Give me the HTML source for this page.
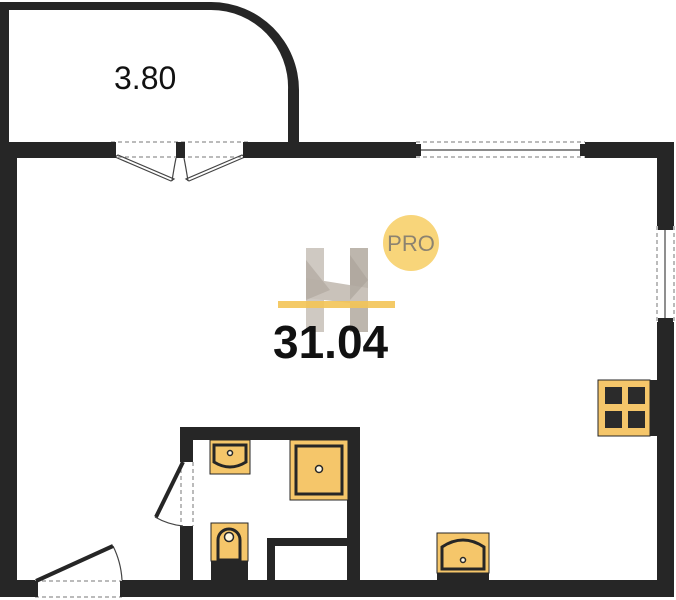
<!DOCTYPE html>
<html><head><meta charset="utf-8"><style>
html,body{margin:0;padding:0;background:#fff;width:676px;height:600px;overflow:hidden}
</style></head><body>
<svg width="676" height="600" viewBox="0 0 676 600" xmlns="http://www.w3.org/2000/svg">
<g fill="#262626">
<rect x="0" y="2" width="211" height="8"/>
<rect x="0" y="2" width="9" height="142"/>
<path d="M211,2 A88,88 0 0 1 299,90 L299,142 L288,142 L288,90 A77,77 0 0 0 211,10 Z"/>
<rect x="0" y="142" width="111" height="16"/>
<rect x="248" y="142" width="168" height="16"/>
<rect x="585" y="142" width="89" height="16"/>
<rect x="0" y="142" width="17" height="455"/>
<rect x="657" y="142" width="17" height="84"/>
<rect x="657" y="322" width="17" height="275"/>
<rect x="0" y="580" width="35" height="17"/>
<rect x="122" y="580" width="552" height="17"/>
<rect x="180" y="427" width="180" height="13"/>
<rect x="347" y="427" width="13" height="155"/>
<rect x="180" y="427" width="13" height="35"/>
<rect x="180" y="526" width="13" height="56"/>
<rect x="267" y="538" width="8" height="44"/>
<rect x="267" y="538" width="85" height="8"/>
<rect x="211" y="561" width="37" height="20"/>
<rect x="650" y="380" width="8" height="56"/>
<rect x="437" y="572" width="52" height="8"/>
</g>
<g stroke="#777" stroke-width="1" fill="none" stroke-dasharray="4,3">
<line x1="111" y1="142" x2="248" y2="142"/><line x1="111" y1="157" x2="248" y2="157"/>
<line x1="416" y1="142" x2="585" y2="142"/><line x1="416" y1="157" x2="585" y2="157"/>
<line x1="657" y1="226" x2="657" y2="322"/><line x1="674" y1="226" x2="674" y2="322"/>
<line x1="35" y1="581" x2="122" y2="581"/><line x1="35" y1="597" x2="122" y2="597"/>
<line x1="181" y1="462" x2="181" y2="526"/><line x1="193" y1="462" x2="193" y2="526"/>
</g>
<g stroke="#444" stroke-width="1.2" fill="none">
<line x1="420" y1="150" x2="581" y2="150"/>
<line x1="665" y1="230" x2="665" y2="318"/>
<path d="M115,157 L171,181 L174,179 L118,155 Z"/>
<path d="M245,157 L189,181 L186,179 L242,155 Z"/>
<path d="M172,181 Q174,168 176,158 M188,181 Q186,168 184,158"/>
<path d="M113,546 A87,87 0 0 1 122,580"/>
<path d="M155,517 A70,70 0 0 0 183,526"/>
</g>
<g fill="#262626">
<rect x="111" y="142" width="5" height="16"/><rect x="176" y="142" width="9" height="16"/><rect x="243" y="142" width="5" height="16"/>
<rect x="416" y="144" width="5" height="12"/><rect x="580" y="144" width="5" height="12"/>
<rect x="658" y="226" width="15" height="4"/><rect x="658" y="318" width="15" height="4"/>
<rect x="33" y="581" width="5" height="16"/><rect x="120" y="581" width="4" height="16"/>
</g>
<line x1="36" y1="581" x2="113" y2="546" stroke="#262626" stroke-width="4"/>
<line x1="183" y1="462" x2="156" y2="517" stroke="#262626" stroke-width="4"/>
<g stroke="#262626" stroke-width="1">
<rect x="210" y="440" width="40" height="34" fill="#f5c66a"/>
<rect x="290" y="440" width="58" height="60" fill="#f5c66a"/>
<rect x="211" y="523" width="37" height="38" fill="#f5c66a"/>
<rect x="598" y="380" width="52" height="56" fill="#f5c66a"/>
<rect x="437" y="533" width="52" height="40" fill="#f5c66a"/>
</g>
<g fill="none" stroke="#262626" stroke-width="3">
<path d="M214,445 L246,445 L246,462 Q230,472 214,462 Z"/>
<rect x="296" y="446" width="46" height="48"/>
<path d="M218,560 L218,540 A11,11 0 0 1 240,540 L240,560 Z"/>
<path d="M442,569 L442,547 Q463,533 484,547 L484,569 Z"/>
</g>
<g fill="#fff7e0" stroke="#262626" stroke-width="1.5">
<circle cx="230" cy="453" r="2.5"/><circle cx="319" cy="469" r="3.5"/><circle cx="229" cy="537" r="4.5"/><circle cx="463" cy="560" r="2.5"/>
</g>
<g fill="#2b2b2b">
<rect x="605" y="387" width="17" height="17"/><rect x="628" y="387" width="17" height="17"/>
<rect x="605" y="411" width="17" height="17"/><rect x="628" y="411" width="17" height="17"/>
</g>
<rect x="306" y="248" width="18" height="84" fill="#cfc9c2"/>
<rect x="350" y="248" width="18" height="84" fill="#bdb6ad"/>
<polygon points="306,278 368,288 368,305 306,298" fill="#c9c2ba"/>
<polygon points="306,260 330,290 306,300" fill="#b0a89f" opacity="0.7"/>
<polygon points="350,255 368,280 350,300" fill="#a8a097" opacity="0.6"/>
<circle cx="411" cy="243" r="28" fill="#f8d57a"/>
<text x="411" y="251" font-family="Liberation Sans, sans-serif" font-size="22" fill="#8c8370" text-anchor="middle">PRO</text>
<rect x="278" y="301" width="117" height="7" fill="#f3c456" opacity="0.9"/>
<text x="273" y="358" font-family="Liberation Sans, sans-serif" font-size="46" font-weight="bold" fill="#111">31.04</text>
<text x="114" y="89" font-family="Liberation Sans, sans-serif" font-size="32" fill="#111">3.80</text>
</svg>
</body></html>
